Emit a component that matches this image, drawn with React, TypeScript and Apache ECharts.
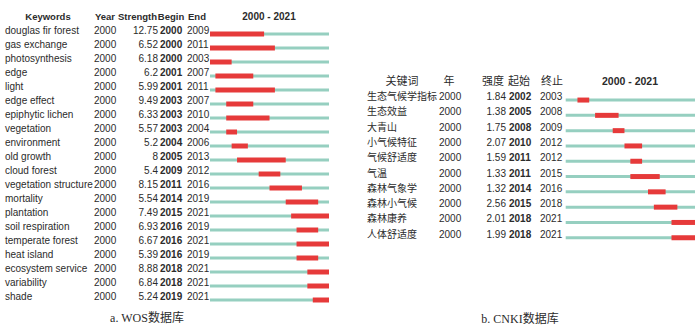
import React, { useEffect, useRef } from "react";
import * as echarts from "echarts";

// ---- WOS data (panel a) ----
const WOS_KEYWORDS = [
  "douglas fir forest", "gas exchange", "photosynthesis", "edge", "light",
  "edge effect", "epiphytic lichen", "vegetation", "environment", "old growth",
  "cloud forest", "vegetation structure", "mortality", "plantation", "soil respiration",
  "temperate forest", "heat island", "ecosystem service", "variability", "shade",
];
const WOS_YEAR = [2000, 2000, 2000, 2000, 2000, 2000, 2000, 2000, 2000, 2000, 2000, 2000, 2000, 2000, 2000, 2000, 2000, 2000, 2000, 2000];
const WOS_STRENGTH = [12.75, 6.52, 6.18, 6.2, 5.99, 9.49, 6.33, 5.57, 5.2, 8, 5.4, 8.15, 5.54, 7.49, 6.93, 6.67, 5.39, 8.88, 6.84, 5.24];
const WOS_BEGIN = [2000, 2000, 2000, 2001, 2001, 2003, 2003, 2003, 2004, 2005, 2009, 2011, 2014, 2015, 2016, 2016, 2016, 2018, 2018, 2019];
const WOS_END = [2009, 2011, 2003, 2007, 2011, 2007, 2010, 2004, 2006, 2013, 2012, 2016, 2019, 2021, 2019, 2021, 2019, 2021, 2021, 2021];

// ---- CNKI data (panel b) ----
const CNKI_KEYWORDS = ["生态气候学指标", "生态效益", "大青山", "小气候特征", "气候舒适度", "气温", "森林气象学", "森林小气候", "森林康养", "人体舒适度"];
const CNKI_YEAR = [2000, 2000, 2000, 2000, 2000, 2000, 2000, 2000, 2000, 2000];
const CNKI_STRENGTH = [1.84, 1.38, 1.75, 2.07, 1.59, 1.33, 1.32, 2.56, 2.01, 1.99];
const CNKI_BEGIN = [2002, 2005, 2008, 2010, 2011, 2011, 2014, 2015, 2018, 2018];
const CNKI_END = [2003, 2008, 2009, 2012, 2012, 2015, 2016, 2018, 2021, 2021];

const RANGE_START = 2000;
const RANGE_END = 2021;

const FONT = "'Liberation Sans', 'Noto Sans CJK SC', sans-serif";
const SERIF = "'Liberation Serif', 'Noto Sans CJK SC', serif";
const TXT = "#2b2b2b";
const RED = "#e63a3a";
const TEAL = "#96cfc0";

type Cols = { kw: number; year: number; strRight: number; begin: number; end: number };

function makeRender(keywords: string[], years: number[], strengths: number[], cols: Cols) {
  return (params: any, api: any) => {
    const i = api.value(0);
    const b = api.value(1);
    const e = api.value(2);
    const p0 = api.coord([RANGE_START, i]);
    const p1 = api.coord([RANGE_END + 1, i]);
    const rb = api.coord([b, i])[0];
    const re = api.coord([e + 1, i])[0];
    const y = p0[1];
    const ty = y - 3.5;
    const t = (text: string, x: number, align: string, bold = false) => ({
      type: "text",
      x,
      y: ty,
      style: {
        text,
        fill: TXT,
        fontSize: 10,
        fontFamily: FONT,
        fontWeight: bold ? "bold" : "normal",
        align,
        verticalAlign: "middle",
      },
    });
    return {
      type: "group",
      children: [
        { type: "rect", shape: { x: p0[0], y: y - 1.5, width: p1[0] - p0[0], height: 3 }, style: { fill: TEAL } },
        { type: "rect", shape: { x: rb, y: y - 2.5, width: re - rb, height: 5 }, style: { fill: RED } },
        t(keywords[i], cols.kw, "left"),
        t(String(years[i]), cols.year, "left"),
        t(String(strengths[i]), cols.strRight, "right"),
        t(String(b), cols.begin, "left", true),
        t(String(e), cols.end, "left"),
      ],
    };
  };
}

export default function App() {
  const ref = useRef<HTMLDivElement>(null);
  useEffect(() => {
    if (!ref.current) return;
    const chart = echarts.init(ref.current, undefined, { renderer: "svg" });
    const wosData = WOS_KEYWORDS.map((_, i) => [i, WOS_BEGIN[i], WOS_END[i]]);
    const cnkiData = CNKI_KEYWORDS.map((_, i) => [i, CNKI_BEGIN[i], CNKI_END[i]]);
    const hdr = (text: string, x: number, y: number, align: string, bold: boolean, size = 10) => ({
      type: "text",
      x,
      y,
      style: { text, fill: TXT, fontSize: size, fontFamily: FONT, fontWeight: bold ? "bold" : "normal", align, verticalAlign: "middle" },
    });
    chart.setOption({
      animation: false,
      backgroundColor: "#ffffff",
      grid: [
        { left: 210, top: 27, width: 119, height: 280 },
        { left: 565.7, top: 92.4, width: 129.3, height: 153 },
      ],
      xAxis: [
        { gridIndex: 0, type: "value", min: RANGE_START, max: RANGE_END + 1, show: false },
        { gridIndex: 1, type: "value", min: RANGE_START, max: RANGE_END + 1, show: false },
      ],
      yAxis: [
        { gridIndex: 0, type: "value", min: -0.5, max: WOS_KEYWORDS.length - 0.5, inverse: true, show: false },
        { gridIndex: 1, type: "value", min: -0.5, max: CNKI_KEYWORDS.length - 0.5, inverse: true, show: false },
      ],
      series: [
        {
          type: "custom",
          xAxisIndex: 0,
          yAxisIndex: 0,
          clip: false,
          encode: { x: [1, 2], y: 0 },
          renderItem: makeRender(WOS_KEYWORDS, WOS_YEAR, WOS_STRENGTH, { kw: 5, year: 94, strRight: 158, begin: 160, end: 187 }),
          data: wosData,
        },
        {
          type: "custom",
          xAxisIndex: 1,
          yAxisIndex: 1,
          clip: false,
          encode: { x: [1, 2], y: 0 },
          renderItem: makeRender(CNKI_KEYWORDS, CNKI_YEAR, CNKI_STRENGTH, { kw: 367, year: 439, strRight: 506, begin: 509, end: 540 }),
          data: cnkiData,
        },
      ],
      graphic: [
        hdr("Keywords", 48, 16.5, "center", true, 9.5),
        hdr("Year", 105, 16.5, "center", true, 9.5),
        hdr("Strength", 137.5, 16.5, "center", true, 9.5),
        hdr("Begin", 171, 16.5, "center", true, 9.5),
        hdr("End", 197, 16.5, "center", true, 9.5),
        hdr(`${RANGE_START} - ${RANGE_END}`, 269, 16.5, "center", true, 10),
        hdr("关键词", 402, 81, "center", false, 11),
        hdr("年", 449, 81, "center", false, 11),
        hdr("强度", 482, 81, "left", false, 11),
        hdr("起始", 508, 81, "left", false, 11),
        hdr("终止", 541, 81, "left", false, 11),
        hdr(`${RANGE_START} - ${RANGE_END}`, 630, 81, "center", true, 10.5),
        {
          type: "text", x: 147, y: 318,
          style: { text: "a. WOS数据库", fill: TXT, fontSize: 12, fontFamily: SERIF, align: "center", verticalAlign: "middle" },
        },
        {
          type: "text", x: 520, y: 319,
          style: { text: "b. CNKI数据库", fill: TXT, fontSize: 12, fontFamily: SERIF, align: "center", verticalAlign: "middle" },
        },
      ],
    });
    return () => chart.dispose();
  }, []);
  return <div ref={ref} style={{ position: "fixed", left: 0, top: 0, width: 700, height: 336 }} />;
}
